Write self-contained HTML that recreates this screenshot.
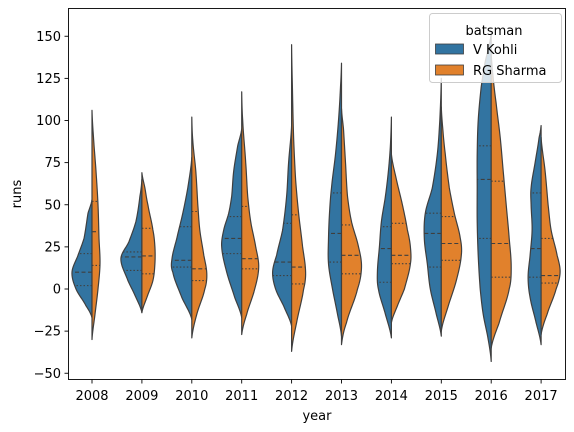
<!DOCTYPE html>
<html><head><meta charset="utf-8"><style>
body{margin:0;background:#fff;}
svg{display:block;font-family:"DejaVu Sans","Liberation Sans",sans-serif;}
</style></head><body>
<svg id="chart" width="574" height="432" viewBox="0 0 574 432" xmlns="http://www.w3.org/2000/svg">
<rect x="0" y="0" width="574" height="432" fill="#fff"/>
<g id="violins"></g>
<g id="axes"></g>
</svg>
<script>
const years = ["2008","2009","2010","2011","2012","2013","2014","2015","2016","2017"];
const batsmen = ["V Kohli","RG Sharma"];
const yTicks = [-50,-25,0,25,50,75,100,125,150];
// density profiles: [runs, density]
const kohliDensity = [
 [[-17,0],[-10,6],[0,16],[10,20],[20,14],[30,8],[45,4],[53,0]],
 [[-14,0],[-5,6],[5,14],[18,21],[28,13],[40,6],[55,2],[65,0]],
 [[-18,0],[-5,10],[10,19],[17,20],[30,15],[45,9],[60,4],[78,0]],
 [[-17,0],[-5,7],[10,15],[25,20],[35,18],[45,13],[55,10],[70,8],[85,4],[95,0]],
 [[-22,0],[-10,8],[0,16],[10,19],[20,15],[35,9],[55,5],[75,3],[97,0]],
 [[-28,0],[-15,4],[0,9],[15,13],[30,13],[45,12],[60,10],[80,6],[100,3],[120,1],[134,0]],
 [[-29,0],[-15,6],[0,13],[10,14],[25,12],[40,10],[55,6],[70,3],[85,1],[102,0]],
 [[-28,0],[-15,5],[0,11],[15,14],[30,17],[45,16],[60,9],[80,4],[100,1.5],[125,0]],
 [[-43,0],[-30,3],[-15,8],[0,11],[20,13],[40,14],[60,14],[80,14],[100,13],[120,10],[135,6],[145,2],[152,0]],
 [[-33,0],[-20,5],[-5,11],[7,13],[20,11],[35,9],[50,10],[60,10],[75,6],[90,2],[97,0]]
];
const sharmaDensity = [
 [[-30,0],[-15,3],[0,6],[15,8],[30,7],[50,6],[70,4],[90,1.5],[106,0]],
 [[-14,0],[-5,5],[5,11],[15,13],[25,13],[35,11],[50,6],[60,3],[69,0]],
 [[-29,0],[-15,5],[0,13],[9,15],[20,12],[35,8],[50,6],[70,4],[88,1],[102,0]],
 [[-27,0],[-15,5],[0,13],[13,17],[25,14],[40,9],[55,6],[75,4],[100,1],[117,0]],
 [[-37,0],[-20,5],[0,12],[10,14],[25,11],[45,7],[65,4],[90,2],[120,0.8],[145,0]],
 [[-33,0],[-20,5],[0,16],[13,20],[25,17],[40,10],[55,6],[75,4],[95,2],[107,0]],
 [[-20,0],[-10,6],[0,13],[15,19],[25,19],[35,16],[50,11],[65,5],[80,0]],
 [[-25,0],[-10,7],[5,15],[20,20],[30,19],[45,13],[60,8],[80,4],[95,1.5],[108,0]],
 [[-35,0],[-20,8],[0,18],[13,20],[30,18],[50,15],[70,12],[90,9],[110,5],[125,2],[140,0]],
 [[-27,0],[-15,6],[0,15],[10,19],[20,16],[35,10],[50,7],[70,4],[90,0]]
];
// quartiles [q1, median, q3]
const kohliQuart = [[2,10,21],[11,19,22],[13,17,37],[21,30,43],[8,16,39],[16,33,57],[4,24,37],[13,33,45],[30,65,85],[7,24,57]];
const sharmaQuart = [[14,34,52],[9,19.6,36],[5,12,46],[12,18,49],[3,13,44],[9,20,38],[15,20,39],[17,27,43],[7,27,64],[3.5,8,30]];

const NS="http://www.w3.org/2000/svg";
const X0=92, DX=49.9, Y0=289, PY=1.685;
const xScale=i=>X0+i*DX;
const yScale=v=>Y0-v*PY;
function mk(tag,attrs,parent){const e=document.createElementNS(NS,tag);for(const k in attrs)e.setAttribute(k,attrs[k]);parent.appendChild(e);return e;}
function interp(knots,v){
  for(let i=0;i<knots.length-1;i++){const a=knots[i],b=knots[i+1];if(v>=a[0]&&v<=b[0]){
    const t=(v-a[0])/(b[0]-a[0]);
    const p0=knots[Math.max(i-1,0)][1],p1=a[1],p2=b[1],p3=knots[Math.min(i+2,knots.length-1)][1];
    const w=0.5*((2*p1)+(-p0+p2)*t+(2*p0-5*p1+4*p2-p3)*t*t+(-p0+3*p1-3*p2+p3)*t*t*t);
    return Math.max(w,0);}}
  return 0;
}
const vg=document.getElementById('violins');
function drawHalf(i,knots,quart,side,color,name){
  const cx=xScale(i);
  const lo=knots[0][0],hi=knots[knots.length-1][0];
  let pts=[];const n=120;
  for(let k=0;k<=n;k++){const v=lo+(hi-lo)*k/n;pts.push([cx+side*interp(knots,v),yScale(v)]);}
  let d="M"+cx+","+yScale(lo)+" "+pts.map(p=>"L"+p[0].toFixed(2)+","+p[1].toFixed(2)).join(" ")+" L"+cx+","+yScale(hi)+" Z";
  const p=mk('path',{d:d,fill:color,stroke:"#3f3f3f","stroke-width":1.2,"stroke-linejoin":"round"},vg);
  
  
  quart.forEach((q,j)=>{
    const w=interp(knots,q);
    const l=mk('line',{x1:cx,x2:cx+side*w,y1:yScale(q),y2:yScale(q),stroke:"#3f3f3f","stroke-width":1.1,"stroke-dasharray":j===1?"4,2.5":"1.5,2"},vg);
    
    
  });
}
years.forEach((y,i)=>{
  drawHalf(i,kohliDensity[i],kohliQuart[i],-1,"#3274a1","violin-kohli-"+y);
  drawHalf(i,sharmaDensity[i],sharmaQuart[i],1,"#e1812c","violin-sharma-"+y);
});
const ag=document.getElementById('axes');
const frame=mk('rect',{x:68.5,y:8.5,width:497,height:371,fill:"none",stroke:"#000","stroke-width":0.9},ag);


yTicks.forEach(t=>{
  const yy=yScale(t);
  mk('line',{x1:64.5,x2:68.5,y1:yy,y2:yy,stroke:"#000","stroke-width":0.9},ag);
  const tx=mk('text',{x:61,y:yy+4.5,"text-anchor":"end","font-size":13,fill:"#000"},ag);
  tx.textContent=t<0?"\u2212"+Math.abs(t):String(t);
  
  
});
years.forEach((y,i)=>{
  const xx=xScale(i);
  mk('line',{x1:xx,x2:xx,y1:379.5,y2:383.5,stroke:"#000","stroke-width":0.9},ag);
  const tx=mk('text',{x:xx,y:400,"text-anchor":"middle","font-size":13,fill:"#000"},ag);
  tx.textContent=y;
  
  
});
const xt=mk('text',{x:317,y:420,"text-anchor":"middle","font-size":13,fill:"#000"},ag);
xt.textContent="year";


const yt=mk('text',{x:21,y:194,"text-anchor":"middle","font-size":13,fill:"#000",transform:"rotate(-90 21 194)"},ag);
yt.textContent="runs";


// legend
const lg=mk('g',{},ag);


mk('rect',{x:429.5,y:13.5,width:132,height:69,rx:3,fill:"#fff","fill-opacity":0.8,stroke:"#ccc","stroke-width":1},lg);
const lt=mk('text',{x:494,y:35,"text-anchor":"middle","font-size":13,fill:"#000"},lg);
lt.textContent="batsman";


const colors=["#3274a1","#e1812c"];
batsmen.forEach((b,i)=>{
  const yy=44+i*21;
  const r=mk('rect',{x:435.5,y:yy,width:28,height:10,fill:colors[i],stroke:"#3f3f3f","stroke-width":0.8},lg);
  
  
  const t=mk('text',{x:473,y:yy+10,"font-size":13,fill:"#000"},lg);
  t.textContent=b;
  
  
});
</script>
</body></html>
